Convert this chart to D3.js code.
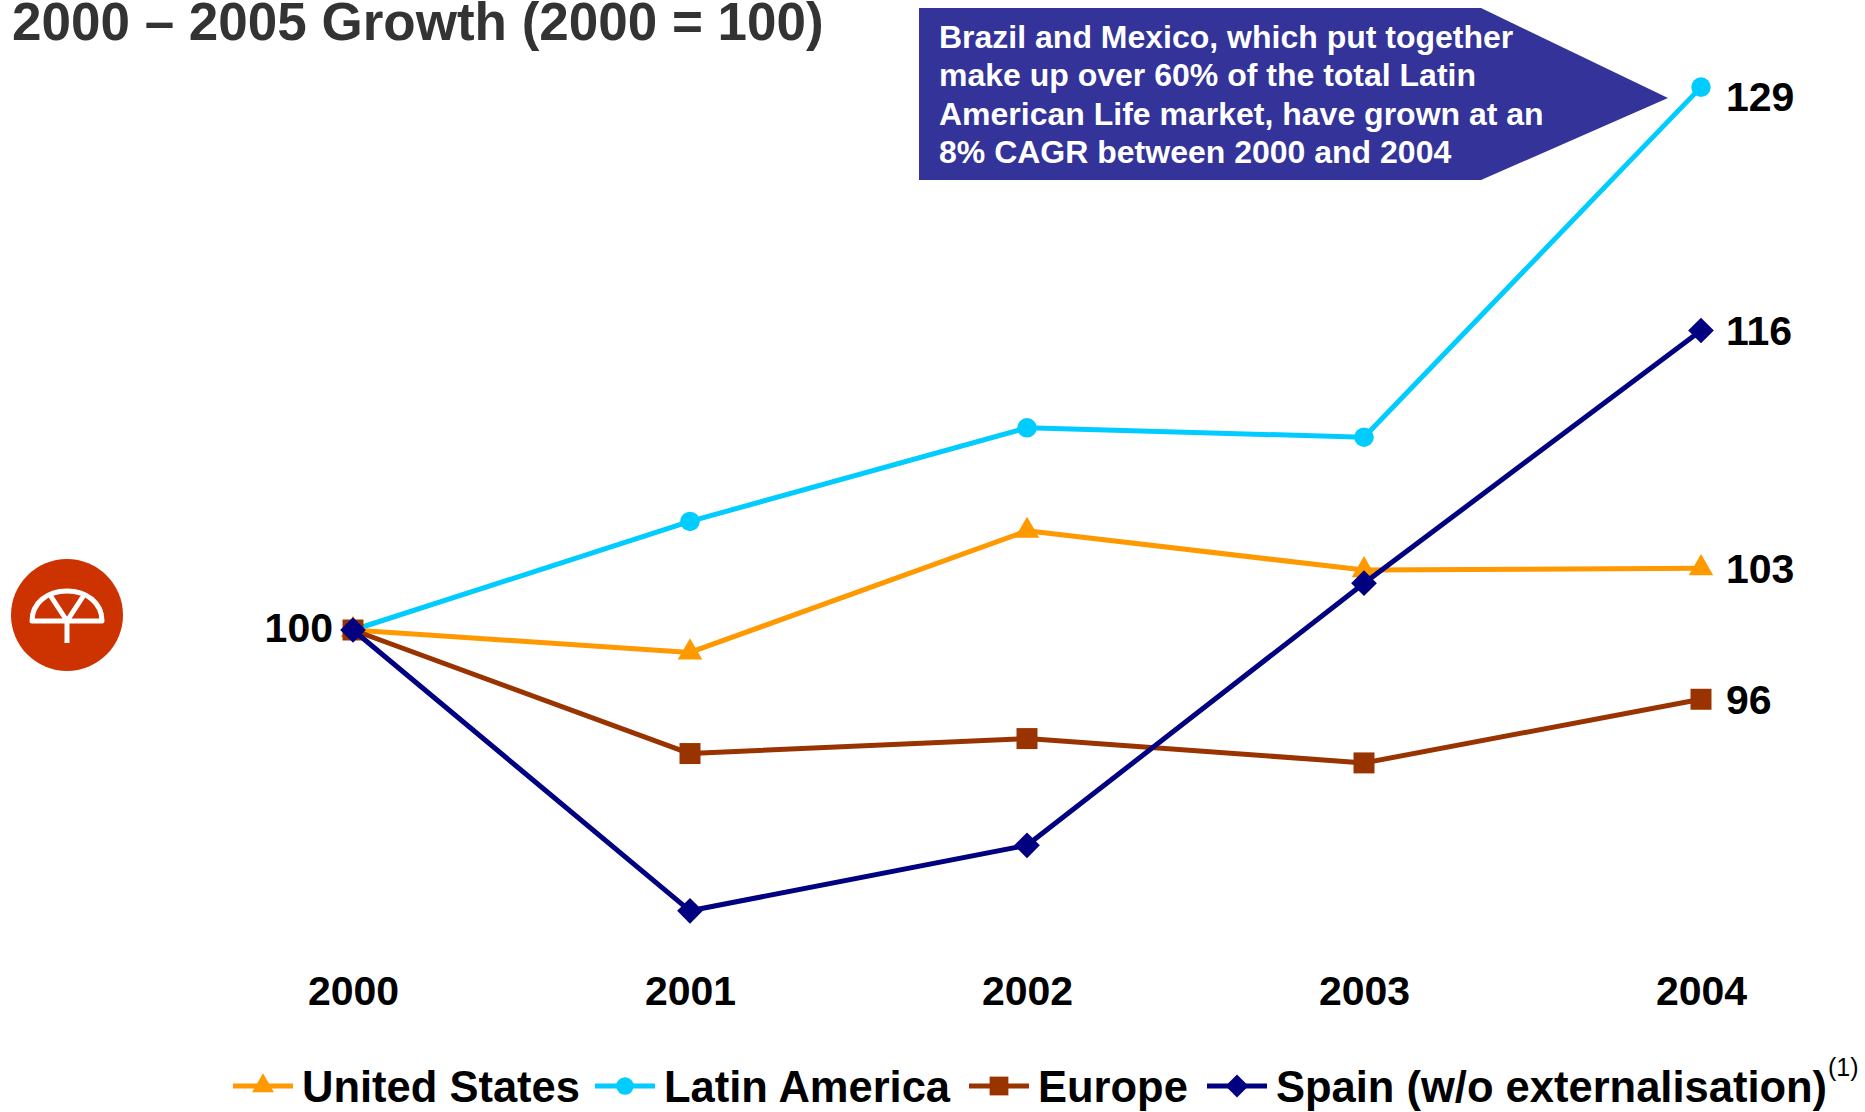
<!DOCTYPE html>
<html>
<head>
<meta charset="utf-8">
<script src="https://cdn.jsdelivr.net/npm/d3@7"></script>
<style>
  body { margin: 0; background: #fff; }
  text { font-family: "Liberation Sans", Arial, sans-serif; font-weight: bold; }
</style>
</head>
<body>
<div id="chart"></div>
<script>
// data (index 2000 = 100)
const years = ["2000", "2001", "2002", "2003", "2004"];
const seriesNames = ["Latin America", "United States", "Europe", "Spain (w/o externalisation)"];
const latinAmerica = [100, 105.8, 110.8, 110.3, 129];
const unitedStates = [100, 98.8, 105.3, 103.2, 103.3];
const europe = [100, 93.4, 94.2, 92.9, 96.3];
const spain = [100, 85.0, 88.5, 102.5, 116];
const endLabels = ["129", "103", "96", "116"];
const startLabel = "100";
const legendOrder = ["United States", "Latin America", "Europe", "Spain (w/o externalisation)"];
const calloutLines = [
  "Brazil and Mexico, which put together",
  "make up over 60% of the total Latin",
  "American Life market, have grown at an",
  "8% CAGR between 2000 and 2004"
];

const W = 1865, H = 1112;
const svg = d3.select("#chart").append("svg").attr("width", W).attr("height", H);

const x = d3.scalePoint().domain(years).range([353, 1701]);
const y = d3.scaleLinear().domain([80, 130]).range([1004.4, 68.4]);

// diamond = square turned 45 degrees
const diamond = { draw(ctx, size) { const r = Math.sqrt(size / 2); ctx.moveTo(0, -r); ctx.lineTo(r, 0); ctx.lineTo(0, r); ctx.lineTo(-r, 0); ctx.closePath(); } };

const series = [
  { name: seriesNames[0], values: latinAmerica, color: "#00ccff", shape: d3.symbolCircle, size: 300, label: endLabels[0], dy: 9 },
  { name: seriesNames[1], values: unitedStates, color: "#ff9900", shape: d3.symbolTriangle, size: 260, label: endLabels[1], dy: 0 },
  { name: seriesNames[2], values: europe, color: "#993300", shape: d3.symbolSquare, size: 440, label: endLabels[2], dy: 0 },
  { name: seriesNames[3], values: spain, color: "#000080", shape: diamond, size: 330, label: endLabels[3], dy: 0 }
];

// title
svg.append("text").attr("x", 12).attr("y", 40).attr("font-size", 53).attr("fill", "#333333")
  .text("2000 \u2013 2005 Growth (2000 = 100)");

// callout arrow box
const cb = { x0: 919, x1: 1481, tip: 1668, top: 8, bot: 180 };
svg.append("path").attr("fill", "#333399")
  .attr("d", `M${cb.x0},${cb.top} L${cb.x1},${cb.top} L${cb.tip},${(cb.top + cb.bot) / 2 + 4} L${cb.x1},${cb.bot} L${cb.x0},${cb.bot} Z`);
svg.append("g").selectAll("text").data(calloutLines).enter().append("text")
  .attr("x", 939).attr("y", (d, i) => 48 + i * 38.4)
  .attr("font-size", 32).attr("fill", "#ffffff").text(d => d);

// logo
const logo = svg.append("g").attr("transform", "translate(67,615)");
logo.append("circle").attr("r", 56).attr("fill", "#cc3300");
logo.append("path").attr("fill", "none").attr("stroke", "#fff").attr("stroke-width", 5).attr("stroke-linejoin", "round")
  .attr("d", "M-35,6 C-35,-12 -20,-24 0,-24 C20,-24 35,-12 35,6 Z M-17,-20 L0,6 L17,-20 M0,6 L0,28");

// lines + markers
const line = d3.line().x((d, i) => x(years[i])).y(d => y(d));
series.forEach(s => {
  const g = svg.append("g");
  g.append("path").datum(s.values).attr("d", line).attr("fill", "none")
    .attr("stroke", s.color).attr("stroke-width", 5).attr("stroke-linejoin", "round");
  g.selectAll("path.m").data(s.values).enter().append("path").attr("class", "m")
    .attr("transform", (d, i) => `translate(${x(years[i])},${y(d)})`)
    .attr("d", d3.symbol().type(s.shape).size(s.size)).attr("fill", s.color);
});

// end labels
series.forEach(s => {
  const last = s.values[s.values.length - 1];
  svg.append("text").attr("x", x(years[years.length - 1]) + 25).attr("y", y(last) + s.dy + 14.5)
    .attr("font-size", 41).attr("fill", "#000").text(s.label);
});
svg.append("text").attr("x", x(years[0]) - 20).attr("y", y(latinAmerica[0]) + 11.5)
  .attr("text-anchor", "end").attr("font-size", 41).attr("fill", "#000").text(startLabel);

// x axis labels (no axis line in the reference)
const xAxis = d3.axisBottom(x).tickSize(0).tickPadding(0);
const ax = svg.append("g").attr("transform", "translate(0,976)").call(xAxis);
ax.select(".domain").remove();
ax.selectAll("text").attr("font-size", 41).attr("fill", "#000").attr("dy", "0.71em")
  .style("font-family", "'Liberation Sans', Arial, sans-serif").style("font-weight", "bold");

// legend
const legX = [233, 595, 969, 1207];
const leg = svg.append("g");
legendOrder.forEach((name, i) => {
  const s = series.find(d => d.name === name);
  const g = leg.append("g").attr("transform", `translate(${legX[i]},1086)`);
  g.append("line").attr("x1", 0).attr("x2", 60).attr("stroke", s.color).attr("stroke-width", 5);
  g.append("path").attr("transform", "translate(30,0)").attr("d", d3.symbol().type(s.shape).size(s.size * 0.8)).attr("fill", s.color);
  g.append("text").attr("x", 69).attr("y", 15.5).attr("font-size", 43.5).attr("fill", "#000").text(name);
});
svg.append("text").attr("x", 1828).attr("y", 1076).attr("font-size", 25)
  .style("font-weight", "normal").attr("fill", "#000").text("(1)");
</script>
</body>
</html>
